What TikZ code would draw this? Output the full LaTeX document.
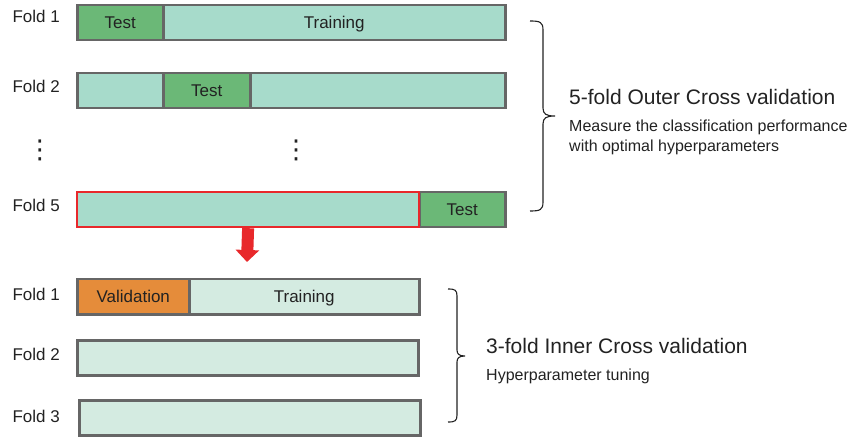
\documentclass[tikz,border=0pt]{standalone}
\usepackage{fontspec}
\setmainfont{Liberation Sans}
\newfontfamily\symfont{DejaVu Sans}
\usetikzlibrary{arrows.meta}
\definecolor{testgreen}{HTML}{6BB877}
\definecolor{trainteal}{HTML}{A7DBCB}
\definecolor{innerlight}{HTML}{D4EBE1}
\definecolor{valorange}{HTML}{E58C3A}
\definecolor{bordergray}{HTML}{666666}
\definecolor{arrowred}{HTML}{E8282B}
\definecolor{txt}{HTML}{222222}
\tikzset{
  cell/.style={draw=bordergray, line width=2.5pt, minimum height=35pt, inner sep=0pt,
    anchor=north west, text=txt, font=\fontsize{17}{17}\selectfont,
    text height=12.2pt, text depth=0pt},
  foldlabel/.style={anchor=base east, text=txt, inner sep=0pt, font=\fontsize{17}{17}\selectfont},
  title/.style={anchor=base west, text=txt, inner sep=0pt, font=\fontsize{21}{21}\selectfont},
  subtitle/.style={anchor=base west, text=txt, inner sep=0pt, font=\fontsize{16}{20}\selectfont, align=left},
  bracket/.style={draw=txt, line width=1.1pt},
  dots/.style={text=txt, inner sep=0pt, font=\symfont\fontsize{26}{26}\selectfont},
}
\begin{document}
\begin{tikzpicture}[x=1pt,y=-1pt]
\useasboundingbox (0,0) rectangle (859,438);
% Outer fold 1
\node[cell, fill=testgreen, minimum width=86pt] (o1test) at (76,4) {Test};
\node[cell, fill=trainteal, minimum width=342pt] (o1train) at (162,4) {Training};
\node[foldlabel] (lo1) at (60,23) {Fold 1};
% Outer fold 2
\node[cell, fill=trainteal, minimum width=86pt] (o2a) at (76,72) {};
\node[cell, fill=testgreen, minimum width=87pt] (o2test) at (162,72) {Test};
\node[cell, fill=trainteal, minimum width=255pt] (o2b) at (249,72) {};
\node[foldlabel] (lo2) at (60,93) {Fold 2};
% dots
\node[dots] (d1) at (40,150) {⋮};
\node[dots] (d2) at (296,150) {⋮};
% Outer fold 5
\node[cell, fill=testgreen, minimum width=86pt] (o5test) at (418,191) {Test};
\node[cell, draw=arrowred, line width=2.2pt, fill=trainteal, minimum width=342pt] (o5red) at (76,191) {};
\node[foldlabel] (lo5) at (60,212) {Fold 5};
% arrow
\coordinate (arrtip) at (247,262);
\draw[arrowred, line width=12pt, -{Triangle[width=23pt,length=12pt]}] (o5red.south) -- (arrtip);
% Inner fold 1
\node[cell, fill=valorange, minimum width=112pt] (i1val) at (76,278) {Validation};
\node[cell, fill=innerlight, minimum width=230pt] (i1train) at (188,278) {Training};
\node[foldlabel] (li1) at (60,300) {Fold 1};
% Inner fold 2
\node[cell, fill=innerlight, minimum width=341pt] (i2) at (76,339) {};
\node[foldlabel] (li2) at (60,360) {Fold 2};
% Inner fold 3
\node[cell, fill=innerlight, minimum width=341pt] (i3) at (78,399) {};
\node[foldlabel] (li3) at (60,422) {Fold 3};
% Outer bracket
\draw[bracket] (530,21) .. controls (540,21) and (543,22) .. (543,30) -- (543,108)
  .. controls (543,114) and (546,116) .. (555,116)
  .. controls (546,116) and (543,118) .. (543,124) -- (543,202)
  .. controls (543,210) and (540,211) .. (530,211);
\node[title] (ot) at (569,105) {5-fold Outer Cross validation};
\node[subtitle] (os1) at (569,132) {Measure the classification performance};
\node[subtitle] (os2) at (569,152) {with optimal hyperparameters};
% Inner bracket
\draw[bracket] (448,289) .. controls (455,289) and (457,290) .. (457,296) -- (457,350)
  .. controls (457,354) and (459,356) .. (465,356)
  .. controls (459,356) and (457,358) .. (457,362) -- (457,415)
  .. controls (457,421) and (455,422) .. (448,422);
\node[title] (it) at (486,353) {3-fold Inner Cross validation};
\node[subtitle] (is1) at (486,380) {Hyperparameter tuning};
\end{tikzpicture}
\end{document}
